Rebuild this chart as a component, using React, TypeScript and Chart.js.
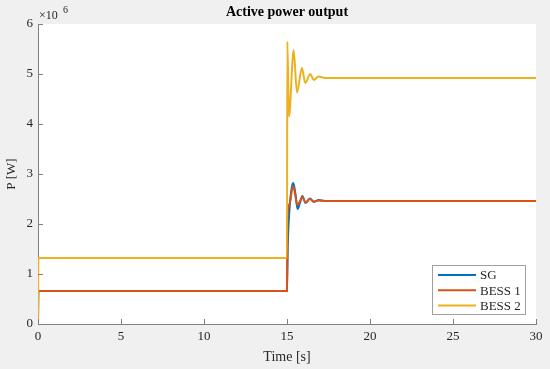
import React, { useEffect, useRef } from "react";
import { Chart, registerables } from "chart.js";

Chart.register(...registerables);

// Values in units of 10^6 W
const sgTime = [0, 0.02, 15.0, 15.05, 15.15, 15.3, 15.38, 15.5, 15.64, 15.78, 15.92, 16.12, 16.38, 16.62, 16.9, 17.3, 30];
const sgValue = [0, 0.66, 0.66, 1.6, 2.3, 2.75, 2.82, 2.62, 2.3, 2.42, 2.56, 2.42, 2.51, 2.44, 2.48, 2.46, 2.46];

const bess1Time = [0, 0.02, 15.0, 15.02, 15.15, 15.36, 15.5, 15.62, 15.76, 15.92, 16.12, 16.38, 16.62, 16.9, 17.3, 30];
const bess1Value = [0, 0.66, 0.66, 2.08, 2.4, 2.76, 2.58, 2.38, 2.44, 2.54, 2.43, 2.5, 2.45, 2.47, 2.46, 2.46];

const bess2Time = [0, 0.02, 15.0, 15.02, 15.12, 15.4, 15.6, 15.9, 16.1, 16.4, 16.62, 16.9, 17.3, 30];
const bess2Value = [0, 1.32, 1.32, 5.65, 4.15, 5.48, 4.63, 5.12, 4.82, 5.0, 4.88, 4.95, 4.92, 4.92];

const seriesLabels = ["SG", "BESS 1", "BESS 2"];
const seriesColors = ["#0072BD", "#D95319", "#EDB120"];
const xTicks = [0, 5, 10, 15, 20, 25, 30];
const yTicks = [0, 1, 2, 3, 4, 5, 6];

const FONT = "'Liberation Serif', 'Times New Roman', serif";
const TEXT = "#262626";
const AXIS = "#808080";

const toPoints = (t: number[], v: number[]) => t.map((x, i) => ({ x, y: v[i] }));

const decorPlugin = {
  id: "decor",
  beforeDraw(chart: any) {
    const { ctx, chartArea: a, width, height } = chart;
    ctx.save();
    ctx.fillStyle = "#f0f0f0";
    ctx.fillRect(0, 0, width, height);
    ctx.fillStyle = "#ffffff";
    ctx.fillRect(a.left, a.top, a.right - a.left, a.bottom - a.top);
    ctx.restore();
  },
  afterDraw(chart: any) {
    const { ctx, chartArea: a, scales } = chart;
    ctx.save();
    // inward ticks
    ctx.strokeStyle = AXIS;
    ctx.lineWidth = 1;
    ctx.beginPath();
    xTicks.forEach((t) => {
      const px = Math.round(scales.x.getPixelForValue(t)) + 0.5;
      ctx.moveTo(px, a.bottom);
      ctx.lineTo(px, a.bottom - 5);
    });
    yTicks.forEach((t) => {
      const py = Math.round(scales.y.getPixelForValue(t)) + 0.5;
      ctx.moveTo(a.left, py);
      ctx.lineTo(a.left + 5, py);
    });
    ctx.stroke();

    // title
    ctx.fillStyle = "#000";
    ctx.font = `bold 14px ${FONT}`;
    ctx.textAlign = "center";
    ctx.textBaseline = "middle";
    ctx.fillText("Active power output", (a.left + a.right) / 2, 12);

    // exponent
    ctx.fillStyle = TEXT;
    ctx.textAlign = "left";
    ctx.textBaseline = "alphabetic";
    ctx.font = `12px ${FONT}`;
    ctx.fillText("×10", 39, 19);
    ctx.font = `10px ${FONT}`;
    ctx.fillText("6", 63, 13);

    // legend
    const lx = 432.5, ly = 265.5, lw = 93, lh = 49;
    ctx.fillStyle = "#ffffff";
    ctx.fillRect(lx, ly, lw, lh);
    ctx.strokeStyle = "#a0a0a0";
    ctx.strokeRect(lx, ly, lw, lh);
    ctx.font = `13px ${FONT}`;
    ctx.textBaseline = "middle";
    chart.data.datasets.forEach((ds: any, i: number) => {
      const y = 275 + i * 15.3;
      ctx.strokeStyle = ds.borderColor;
      ctx.lineWidth = 2;
      ctx.beginPath();
      ctx.moveTo(438, y);
      ctx.lineTo(476, y);
      ctx.stroke();
      ctx.fillStyle = TEXT;
      ctx.fillText(ds.label, 480, y + 1);
    });
    ctx.restore();
  },
};

export default function App() {
  const ref = useRef<HTMLCanvasElement>(null);
  useEffect(() => {
    document.body.style.margin = "0";
    const datasets = [
      { label: seriesLabels[0], data: toPoints(sgTime, sgValue), order: 3 },
      { label: seriesLabels[1], data: toPoints(bess1Time, bess1Value), order: 2 },
      { label: seriesLabels[2], data: toPoints(bess2Time, bess2Value), order: 1 },
    ].map((d, i) => ({
      ...d,
      borderColor: seriesColors[i],
      backgroundColor: seriesColors[i],
      borderWidth: 2,
      pointRadius: 0,
      fill: false,
      cubicInterpolationMode: "monotone" as const,
    }));
    const chart = new Chart(ref.current!, {
      type: "line",
      data: { datasets },
      options: {
        responsive: false,
        animation: false,
        layout: { padding: { top: 24, right: 14, left: 0, bottom: 0 } },
        plugins: { legend: { display: false }, tooltip: { enabled: false }, title: { display: false } },
        scales: {
          x: {
            type: "linear",
            min: 0,
            max: 30,
            afterFit: (s: any) => { s.height = 45; },
            afterBuildTicks: (s: any) => { s.ticks = xTicks.map((v) => ({ value: v })); },
            ticks: { color: TEXT, font: { family: FONT, size: 13 }, padding: 5, maxRotation: 0 },
            grid: { display: false, drawTicks: false },
            border: { display: true, color: AXIS, width: 1 },
            title: { display: true, text: "Time [s]", color: TEXT, font: { family: FONT, size: 14 }, padding: { top: 0, bottom: 3 } },
          },
          y: {
            type: "linear",
            min: 0,
            max: 6,
            afterFit: (s: any) => { s.width = 38; },
            afterBuildTicks: (s: any) => { s.ticks = yTicks.map((v) => ({ value: v })); },
            ticks: { color: TEXT, font: { family: FONT, size: 13 }, padding: 5 },
            grid: { display: false, drawTicks: false },
            border: { display: true, color: AXIS, width: 1 },
            title: { display: true, text: "P [W]", color: TEXT, font: { family: FONT, size: 13 }, padding: { top: 4, bottom: 0 } },
          },
        },
      },
      plugins: [decorPlugin],
    });
    return () => chart.destroy();
  }, []);
  return <canvas ref={ref} width={550} height={369} style={{ display: "block" }} />;
}
